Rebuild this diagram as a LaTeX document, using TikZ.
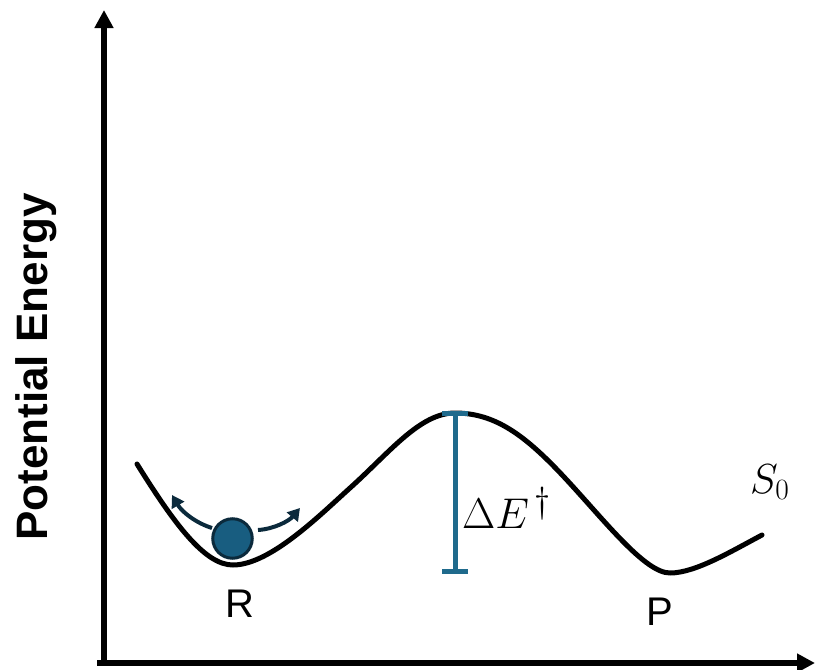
\RequirePackage{fix-cm}
\documentclass[tikz,border=0pt]{standalone}
\usepackage{fontspec}
\setmainfont{Liberation Sans}
\usetikzlibrary{arrows.meta}
\definecolor{ballfill}{HTML}{185D80}
\definecolor{balldark}{HTML}{0B2A3C}
\definecolor{barblue}{HTML}{1F6A8C}
\tikzset{
  axisline/.style={line width=6pt, -{Triangle[length=18pt,width=18pt]}},
  pes/.style={line width=5pt, line join=round, line cap=round},
  jiggle/.style={line width=4pt, balldark, -{Triangle[length=12pt,width=14pt]}},
  errbar/.style={line width=5pt, barblue},
  biglabel/.style={font=\fontsize{40}{48}\selectfont, inner sep=0pt},
}
\begin{document}
\begin{tikzpicture}[x=1pt,y=-1pt]
\useasboundingbox (0,0) rectangle (815,670);
% axes
\coordinate (O) at (104,663);
\coordinate (ytop) at (104,10);
\coordinate (xend) at (815,663);
\coordinate (O2) at (97,663);
\draw[axisline] (O) -- (ytop);
\draw[axisline] (O2) -- (xend);
% y label
\node[rotate=90, anchor=base, inner sep=0pt, font=\fontsize{44}{52}\selectfont\bfseries] (ylab) at (47,367) {Potential Energy};
% potential energy surface
\draw[pes] (137,464) .. controls (175,525) and (205,565) .. (233,565)
  .. controls (270,565) and (320,515) .. (350,488)
  .. controls (390,452) and (420,413) .. (455,413)
  .. controls (495,413) and (525,435) .. (565,478)
  .. controls (605,521) and (645,573) .. (670,573)
  .. controls (695,573) and (730,552) .. (762,535);
% ball
\node[draw=balldark, fill=ballfill, line width=3pt, circle, minimum size=39.5pt, inner sep=0pt] (ball) at (232.5,538.5) {};
\coordinate (la) at (212,528);
\coordinate (lt) at (172,495);
\coordinate (ra) at (258,530);
\coordinate (rt) at (300,508);
\draw[jiggle] (la) .. controls (196,523) and (182,512) .. (lt);
\draw[jiggle] (ra) .. controls (274,529) and (289,521) .. (rt);
% barrier bar
\coordinate (bt) at (455,413);
\coordinate (bb) at (455,571);
\draw[errbar] (bt) -- (bb);
\draw[errbar] ([xshift=-13pt]bt) -- ([xshift=13pt]bt);
\draw[errbar] ([xshift=-13pt]bb) -- ([xshift=13pt]bb);
\node[biglabel, anchor=base west] (dE) at (462,528) {\fontsize{43}{50}\selectfont$\Delta E^{\,\scalebox{1.2}{$\scriptstyle\dagger$}}$};
\node[biglabel, anchor=base west] (S0) at (750,493) {\fontsize{42}{50}\selectfont$S_0$};
\node[biglabel, anchor=base] (R) at (240,617) {R};
\node[biglabel, anchor=base] (P) at (660,625) {P};
\end{tikzpicture}
\end{document}
